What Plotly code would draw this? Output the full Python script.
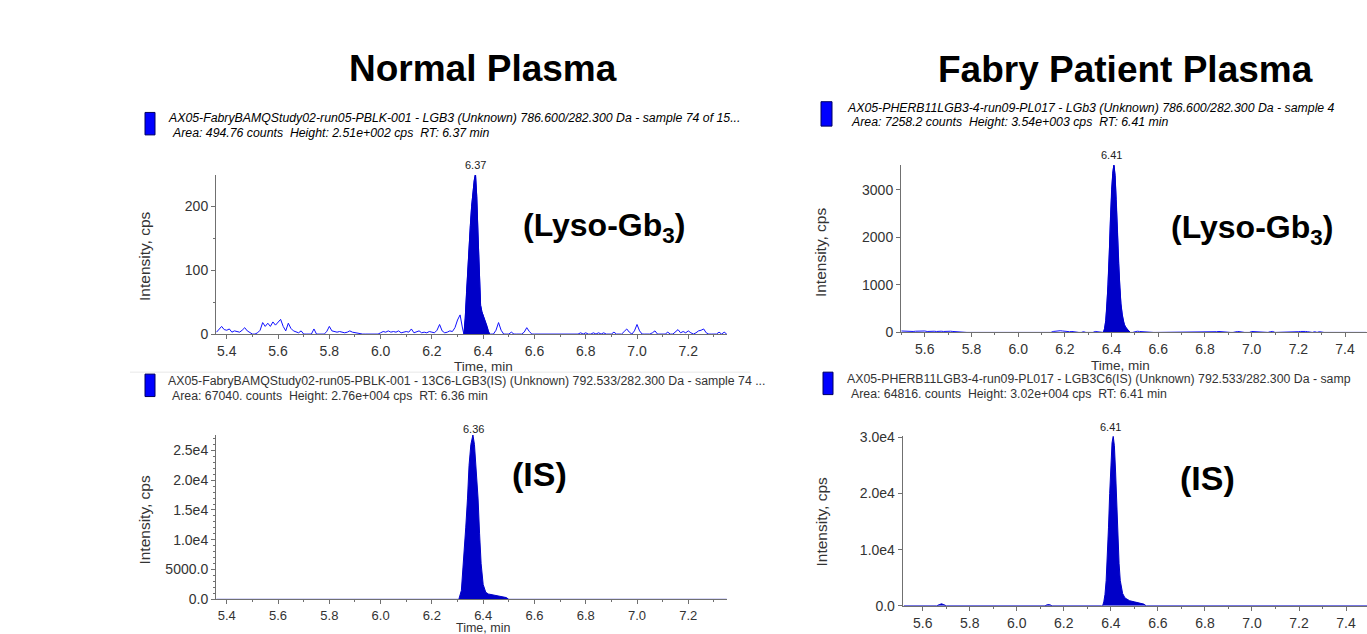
import numpy as np
import plotly.graph_objects as go

W, H = 1367, 634

# ---------------- DATA ----------------
# Top-left: Normal plasma, Lyso-Gb3 (786.6/282.3), cps
TL_PRE_START, TL_STEP = 5.36, 0.01
TL_PRE = [3, 8, 12, 7, 6, 8, 3, 5, 4, 3,
          6, 10, 5, 3, 0, 0, 2, 6, 18, 12,
          17, 12, 19, 14, 18, 23, 12, 5, 17, 9,
          5, 4, 2, 5, 0, 0, 0, 0, 8, 0,
          0, 0, 0, 4, 12, 5, 4, 3, 4, 3,
          2, 3, 5, 3, 2, 2, 0, 0, 0, 0,
          0, 0, 0, 0, 2, 4, 3, 5, 3, 4,
          3, 5, 2, 3, 4, 3, 8, 2, 4, 5,
          2, 3, 2, 4, 3, 2, 6, 15, 5, 2,
          3, 5, 4, 10, 22, 30, 8]
TL_PEAK_T = [6.325, 6.33, 6.335, 6.34, 6.345, 6.35, 6.355, 6.36, 6.365, 6.37, 6.375,
             6.38, 6.385, 6.39, 6.395, 6.40, 6.405, 6.41, 6.415, 6.42, 6.425]
TL_PEAK_V = [0, 25, 65, 105, 140, 170, 200, 225, 240, 251, 215,
             155, 95, 45, 35, 30, 25, 20, 12, 5, 0]
TL_POST_START = 6.43
TL_POST = [0, 0, 6, 18, 6, 0, 0, 0, 3, 0,
           0, 0, 0, 3, 10, 4, 0, 0, 0, 0,
           0, 0, 0, 0, 0, 0, 0, 0, 0, 0,
           0, 0, 0, 0, 0, 2, 0, 2, 0, 0,
           2, 0, 2, 0, 2, 0, 0, 0, 3, 0,
           0, 0, 4, 8, 3, 0, 5, 15, 5, 0,
           0, 0, 0, 2, 5, 0, 0, 0, 0, 3,
           0, 0, 3, 7, 2, 4, 2, 5, 2, 0,
           2, 5, 6, 8, 2, 0, 0, 0, 0, 3,
           0, 3, 0]

# Top-right: Fabry patient plasma, Lyso-Gb3
TR_PRE_START = 5.50
TR_PRE = [30, 25, 20, 30, 25, 20, 25, 30, 20, 25,
          30, 20, 25, 30, 25, 20, 30, 25, 20, 25,
          30, 25, 20, 15, 20, 0,
          0, 0, 0, 0, 0, 0, 0, 0, 0, 0,
          0, 0, 0, 0, 0, 0, 0, 10, 0, 0,
          0, 0, 0, 0, 0, 0, 0, 0, 0, 0,
          0, 0, 0, 0, 0, 0, 0, 0, 0,
          20, 30, 25, 35, 30, 20, 25, 15, 20, 10, 0,
          0, 0, 15, 0, 0, 10,
          0, 20, 15, 10, 0]
TR_PEAK_T = [6.365, 6.37, 6.375, 6.38, 6.385, 6.39, 6.395, 6.40, 6.405, 6.41, 6.415, 6.42,
             6.425, 6.43, 6.435, 6.44, 6.445, 6.45, 6.455, 6.46, 6.465, 6.47, 6.475, 6.48]
TR_PEAK_V = [0, 80, 250, 550, 1000, 1650, 2400, 3000, 3350, 3540, 3300, 2800,
             2100, 1450, 950, 600, 380, 240, 160, 110, 80, 50, 30, 0]
TR_POST_START = 6.49
TR_POST = [0, 20, 25, 20, 15, 20, 0, 0, 0, 0,
           0, 0, 0, 0, 0, 0, 0, 0, 0, 0,
           0, 0, 0, 0, 0, 15, 0, 0, 15, 0,
           0, 0, 0, 0, 0, 0, 15, 20, 15, 0,
           0, 0, 0, 0, 15, 20, 15, 0, 0, 0,
           0, 20, 15, 20, 15, 0, 0, 0, 0, 15,
           20, 0, 0, 0, 0, 0, 0, 0, 0, 0,
           0, 15, 20, 25, 20, 15, 0, 0, 15, 0,
           15, 0, 0, 0, 0, 0, 0, 0, 0, 0,
           0, 0, 0, 0, 0, 0, 0, 0, 0, 0,
           0]

# Bottom-left: Normal plasma, internal standard 13C6-LGB3
BL_T = [5.36, 6.305, 6.315, 6.323, 6.332, 6.339, 6.345, 6.352, 6.36, 6.366, 6.372, 6.38,
        6.386, 6.392, 6.40, 6.41, 6.42, 6.44, 6.46, 6.48, 6.49, 6.50, 7.35]
BL_V = [0, 0, 1500, 6000, 12000, 17000, 22500, 26000, 27600, 26000, 22500, 17000,
        11000, 6000, 2500, 1200, 900, 700, 600, 400, 300, 0, 0]

# Bottom-right: Fabry patient plasma, internal standard LGB3C6
BR_T = [5.52, 5.66, 5.67, 5.68, 5.69, 5.70, 6.12, 6.13, 6.14, 6.15, 6.36,
        6.365, 6.37, 6.375, 6.38, 6.385, 6.39, 6.395, 6.40, 6.405, 6.41, 6.415, 6.42,
        6.425, 6.43, 6.435, 6.44, 6.45, 6.46, 6.48, 6.50, 6.52, 6.54, 6.55, 7.49]
BR_V = [0, 0, 200, 350, 200, 0, 0, 200, 200, 0, 0,
        0, 700, 2000, 4500, 8500, 14000, 20000, 25500, 29000, 30200, 28500, 24000,
        18000, 12000, 7500, 4500, 2200, 1400, 900, 700, 500, 300, 0, 0]

TL_XTICKS = [5.4, 5.6, 5.8, 6.0, 6.2, 6.4, 6.6, 6.8, 7.0, 7.2]
TR_XTICKS = [5.6, 5.8, 6.0, 6.2, 6.4, 6.6, 6.8, 7.0, 7.2, 7.4]
TL_YTICKS, TL_YTEXT = [0, 100, 200], ["0", "100", "200"]
BL_YTICKS = [0, 5000, 10000, 15000, 20000, 25000]
BL_YTEXT = ["0.0", "5000.0", "1.0e4", "1.5e4", "2.0e4", "2.5e4"]
TR_YTICKS, TR_YTEXT = [0, 1000, 2000, 3000], ["0", "1000", "2000", "3000"]
BR_YTICKS, BR_YTEXT = [0, 10000, 20000, 30000], ["0.0", "1.0e4", "2.0e4", "3.0e4"]

HEADERS = [
    ("<i>AX05-FabryBAMQStudy02-run05-PBLK-001 - LGB3 (Unknown) 786.600/282.300 Da - sample 74 of 15...</i>",
     "<i>Area: 494.76 counts  Height: 2.51e+002 cps  RT: 6.37 min</i>"),
    ("<i>AX05-PHERB11LGB3-4-run09-PL017 - LGb3 (Unknown) 786.600/282.300 Da - sample 4</i>",
     "<i>Area: 7258.2 counts  Height: 3.54e+003 cps  RT: 6.41 min</i>"),
    ("AX05-FabryBAMQStudy02-run05-PBLK-001 - 13C6-LGB3(IS) (Unknown) 792.533/282.300 Da - sample 74 ...",
     "Area: 67040. counts  Height: 2.76e+004 cps  RT: 6.36 min"),
    ("AX05-PHERB11LGB3-4-run09-PL017 - LGB3C6(IS) (Unknown) 792.533/282.300 Da - samp",
     "Area: 64816. counts  Height: 3.02e+004 cps  RT: 6.41 min"),
]
PEAK_LABELS = ["6.37", "6.41", "6.36", "6.41"]

# ---------------- BUILD ----------------
def px(x):
    return x / W

def py(y):
    return 1 - y / H

def grid(start, n):
    return list(np.round(start + TL_STEP * np.arange(n), 3))

tl_t = grid(TL_PRE_START, len(TL_PRE)) + TL_PEAK_T + grid(TL_POST_START, len(TL_POST))
tl_v = TL_PRE + TL_PEAK_V + TL_POST
tr_t = grid(TR_PRE_START, len(TR_PRE)) + TR_PEAK_T + grid(TR_POST_START, len(TR_POST))
tr_v = TR_PRE + TR_PEAK_V + TR_POST

LINE = "#1010ff"
FILL = "#0000c8"
FONT = "Liberation Sans, Arial, sans-serif"

fig = go.Figure()
fig.add_trace(go.Scatter(x=tl_t, y=tl_v, mode="lines", line=dict(color=LINE, width=1),
                         xaxis="x", yaxis="y", showlegend=False, hoverinfo="skip"))
fig.add_trace(go.Scatter(x=TL_PEAK_T, y=TL_PEAK_V, mode="lines", fill="tozeroy",
                         fillcolor=FILL, line=dict(color=FILL, width=1),
                         xaxis="x", yaxis="y", showlegend=False, hoverinfo="skip"))
fig.add_trace(go.Scatter(x=tr_t, y=tr_v, mode="lines", line=dict(color=LINE, width=1),
                         xaxis="x2", yaxis="y2", showlegend=False, hoverinfo="skip"))
fig.add_trace(go.Scatter(x=TR_PEAK_T, y=TR_PEAK_V, mode="lines", fill="tozeroy",
                         fillcolor=FILL, line=dict(color=FILL, width=1),
                         xaxis="x2", yaxis="y2", showlegend=False, hoverinfo="skip"))
fig.add_trace(go.Scatter(x=BL_T, y=BL_V, mode="lines", fill="tozeroy",
                         fillcolor=FILL, line=dict(color=FILL, width=1),
                         xaxis="x3", yaxis="y3", showlegend=False, hoverinfo="skip"))
fig.add_trace(go.Scatter(x=BR_T, y=BR_V, mode="lines", fill="tozeroy",
                         fillcolor=FILL, line=dict(color=FILL, width=1),
                         xaxis="x4", yaxis="y4", showlegend=False, hoverinfo="skip"))

AXC = "#707070"

def tickf(size=14):
    return dict(family=FONT, size=size, color="#333333")

def xax(dom, rng, ticks, anchor, fsize=14):
    return dict(domain=[px(dom[0]), min(1.0, px(dom[1]))], range=rng, anchor=anchor,
                tickmode="array", tickvals=ticks, ticktext=["%.1f" % t for t in ticks],
                ticks="outside", ticklen=4, tickcolor=AXC, showline=True, linecolor=AXC,
                linewidth=1, showgrid=False, zeroline=False, tickfont=tickf(fsize),
                minor=dict(tickmode="linear", tick0=ticks[0], dtick=0.1, ticks="outside",
                           ticklen=2, tickcolor=AXC, showgrid=False),
                fixedrange=True)

def yax(dom, rng, ticks, text, anchor, minor_dt=None):
    d = dict(domain=[py(dom[1]), py(dom[0])], range=rng, anchor=anchor,
             tickmode="array", tickvals=ticks, ticktext=text,
             ticks="outside", ticklen=4, tickcolor=AXC, showline=True, linecolor=AXC,
             linewidth=1, showgrid=False, zeroline=False, tickfont=tickf(), fixedrange=True)
    if minor_dt:
        d["minor"] = dict(tickmode="linear", tick0=0, dtick=minor_dt, ticks="outside",
                          ticklen=2, tickcolor=AXC, showgrid=False)
    return d

fig.update_layout(
    width=W, height=H, autosize=False,
    margin=dict(l=0, r=0, t=0, b=0),
    paper_bgcolor="white", plot_bgcolor="white",
    xaxis=xax((216, 727), [5.358, 7.351], TL_XTICKS, "y"),
    yaxis=yax((172, 335), [0, 249], TL_YTICKS, TL_YTEXT, "x", 50),
    xaxis2=xax((901, 1367), [5.498, 7.494], TR_XTICKS, "y2"),
    yaxis2=yax((162, 333.3), [0, 3520], TR_YTICKS, TR_YTEXT, "x2"),
    xaxis3=xax((216, 727), [5.358, 7.351], TL_XTICKS, "y3", 13),
    yaxis3=yax((438.3, 606.7), [0, 27600], BL_YTICKS, BL_YTEXT, "x3", 1000),
    xaxis4=xax((902.7, 1367), [5.515, 7.489], TR_XTICKS, "y4"),
    yaxis4=yax((439.6, 613.3), [0, 30200], BR_YTICKS, BR_YTEXT, "x4"),
)

ann = []
shapes = []

def text(x, y, s, size, color="#222222", xanchor="center", yanchor="middle", angle=0, pad=1):
    ann.append(dict(x=px(x), y=py(y), xref="paper", yref="paper", text=s, showarrow=False,
                    xanchor=xanchor, yanchor=yanchor, textangle=angle, borderpad=pad,
                    font=dict(family=FONT, size=size, color=color)))

# Titles
text(483, 63, "<b>Normal Plasma</b>", 37, "#000000")
text(1125, 64, "<b>Fabry Patient Plasma</b>", 37, "#000000")

# Header blocks: (rect x0, y0, x1, y1, text x, line1 y, line2 y, color)
HDR_POS = [(145, 108, 155, 131, 166, 114, 129, "#000000"),
           (821, 97, 832, 122, 845, 103, 118, "#000000"),
           (145, 376, 155, 399, 166, 383, 398, "#333333"),
           (823, 374, 833, 397, 845, 381, 396, "#333333")]
for (x0, y0, x1, y1, tx, l1, l2, col), (h1, h2) in zip(HDR_POS, HEADERS):
    shapes.append(dict(type="rect", xref="paper", yref="paper", x0=px(x0), x1=px(x1),
                       y0=py(y1), y1=py(y0), fillcolor="#0000ff",
                       line=dict(color="#000060", width=1)))
    text(tx, l1, h1, 12.3, col, xanchor="left")
    text(tx + 4, l2, h2, 12.3, col, xanchor="left")

# Peak apex labels
text(475, 162, PEAK_LABELS[0], 11, "#222222")
text(1111, 152, PEAK_LABELS[1], 11, "#222222")
text(473, 432, PEAK_LABELS[2], 11, "#222222")
text(1110, 430, PEAK_LABELS[3], 11, "#222222")

# Compound labels
text(604, 226, "<b>(Lyso-Gb<sub>3</sub>)</b>", 32, "#000000")
text(1252, 228, "<b>(Lyso-Gb<sub>3</sub>)</b>", 32, "#000000")
text(539, 478, "<b>(IS)</b>", 34, "#000000")
text(1207, 482, "<b>(IS)</b>", 34, "#000000")

# Axis titles
for (x, y) in [(145, 255), (145, 525), (820, 251), (822, 527)]:
    text(x, y, "Intensity, cps", 15.5, "#333333", angle=-90)
text(483, 368, "Time, min", 13.5, "#333333")
text(1120, 367, "Time, min", 13.5, "#333333")
# bottom-left axis title sits at the lower edge, partly outside the picture as in the source
text(483, 628, "Time, min", 12.5, "#333333", yanchor="top", pad=0)

# faint separator under top-left panel
shapes.append(dict(type="line", xref="paper", yref="paper", x0=px(130), x1=px(750),
                   y0=py(374), y1=py(374), line=dict(color="#e8e8e8", width=1)))

fig.update_layout(annotations=ann, shapes=shapes)

fig.write_html("out.html", config=dict(displayModeBar=False, staticPlot=True))
